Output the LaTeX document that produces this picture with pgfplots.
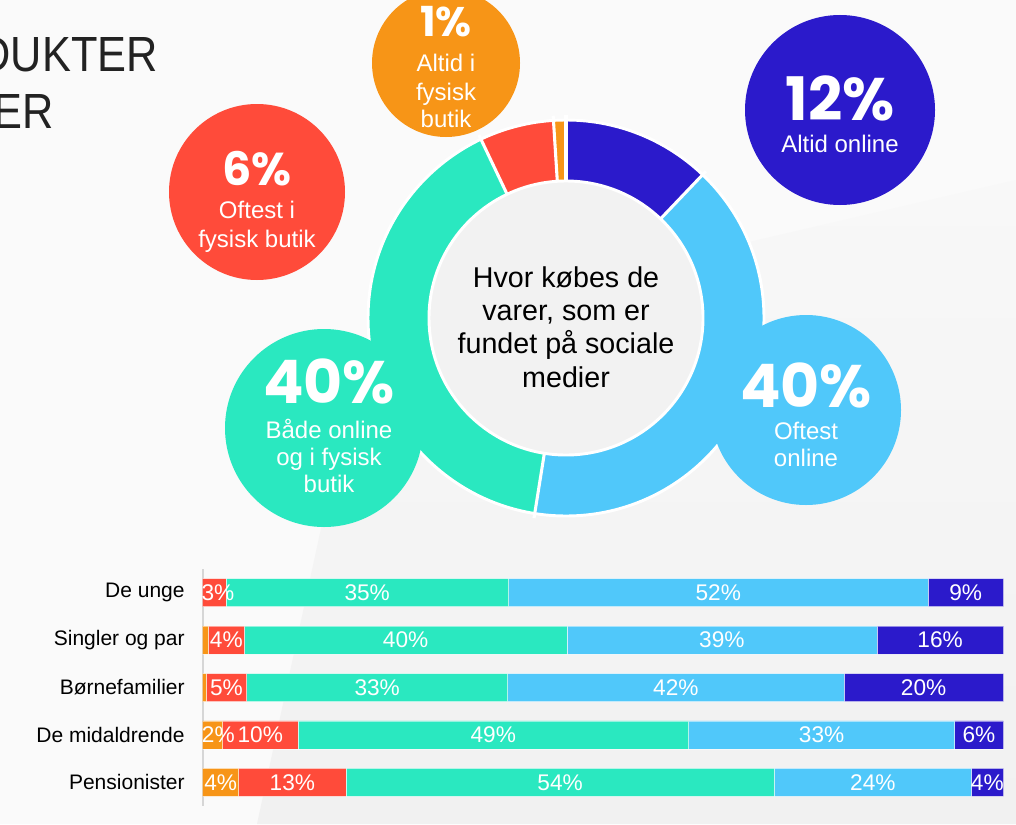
\documentclass[border=0pt]{standalone}
\usepackage{fontspec}
\setmainfont{Liberation Sans}
\newfontfamily\heavy{Poppins}
\usepackage{graphicx}
\usepackage{pgfplots}
\usepackage{pgfplotstable}
\pgfplotsset{compat=1.18}
\definecolor{cDark}{HTML}{2B1ACB}
\definecolor{cLight}{HTML}{50C8FA}
\definecolor{cTeal}{HTML}{2AE8C0}
\definecolor{cRed}{HTML}{FF4B3A}
\definecolor{cOrange}{HTML}{F79517}
\definecolor{bgA}{HTML}{F1F1F1}
\definecolor{bgB}{HTML}{FAFAFA}
\definecolor{bgC}{HTML}{F8F8F8}
\definecolor{cInner}{HTML}{F2F2F2}
\definecolor{cAxis}{HTML}{D6D6D6}
\definecolor{cTitle}{HTML}{222222}
\newcommand\fs[2]{\fontsize{#1}{#2}\selectfont}

% donut: share of purchases (per cent), total 99
% Altid online 12, Oftest online 40, Baade 40, Oftest fysisk 6, Altid fysisk 1
\def\degper{3.6363636}
\newcommand\seg[3]{% #1 cumulative start, #2 value, #3 colour
  \fill[#3] ({90-\degper*(#1)}:148.5pt)
    arc[start angle={90-\degper*(#1)}, end angle={90-\degper*((#1)+(#2))}, radius=148.5pt]
    -- ({90-\degper*((#1)+(#2))}:102.75pt)
    arc[start angle={90-\degper*((#1)+(#2))}, end angle={90-\degper*(#1)}, radius=102.75pt] -- cycle;
}
\newcommand\sep[1]{\draw[white, line width=2.3pt] ({90-\degper*(#1)}:100pt) -- ({90-\degper*(#1)}:152pt);}

\pgfplotstableread{
y orange red teal lblue dblue
0 0    2.9  35.3 52.4 9.4
1 0.7  4.5  40.3 38.7 15.8
2 0.45 5.05 32.6 42.0 19.9
3 2.5  9.4  48.8 33.2 6.1
4 4.5  13.4 53.5 24.6 4.0
}\bars

\pgfplotstableread{
x y lab
1.9 0 3
20.55 0 35
64.4 0 52
95.3 0 9
2.95 1 4
25.35 1 40
64.85 1 39
92.1 1 16
2.975 2 5
21.8 2 33
59.1 2 42
90.05 2 20
1.95 3 2
7.2 3 10
36.3 3 49
77.3 3 33
96.95 3 6
2.25 4 4
11.2 4 13
44.65 4 54
83.7 4 24
98 4 4
}\labs

\begin{document}
\begin{tikzpicture}
\useasboundingbox (0,0) rectangle (762pt,-618pt);
\clip (0,0) rectangle (762pt,-618pt);
\begin{scope}[x=0.75pt,y=-0.75pt]
  \fill[bgB] (0,0) rectangle (1016,824);
  \shade[top color=bgC, bottom color=bgA] (257,824) -- (320,533) -- (370,330) -- (1016,180) -- (1016,824) -- cycle;
  \node[anchor=base east, inner sep=0pt, text=cTitle, font=\fs{32.5}{36}] at (158,72) {\scalebox{1}[1.14]{DUKTER}};
  \node[anchor=base east, inner sep=0pt, text=cTitle, font=\fs{32.5}{36}] at (54,128) {\scalebox{1}[1.14]{ER}};
  \fill[cOrange] (446,63) circle[radius=74];
  \fill[cRed] (257,192) circle[radius=88];
  \fill[cDark] (840,110) circle[radius=95];
\end{scope}

\begin{scope}[shift={(424.5pt,-238.5pt)}]
  \seg{0}{12}{cDark}
  \seg{12}{40}{cLight}
  \seg{52}{40}{cTeal}
  \seg{92}{6}{cRed}
  \seg{98}{1}{cOrange}
  \sep{0}\sep{12}\sep{52}\sep{92}\sep{98}
  \draw[white, line width=2.2pt] (0,0) circle[radius=148.5pt];
  \filldraw[fill=cInner, draw=white, line width=2.2pt] (0,0) circle[radius=102.75pt];
\end{scope}

\begin{scope}[x=0.75pt,y=-0.75pt]
  \fill[cTeal] (324,428) circle[radius=99];
  \fill[cLight] (806,410) circle[radius=95];
  % centre text
  \begin{scope}[every node/.style={anchor=base, inner sep=0pt, text=black, font=\fs{21.5}{25}}]
    \node at (566,287) {Hvor købes de};
    \node at (566,320) {varer, som er};
    \node at (566,353) {fundet på sociale};
    \node at (566,387) {medier};
  \end{scope}
  \begin{scope}[every node/.style={anchor=base, inner sep=0pt, text=white, font=\fs{18}{20}}]
    \node[font=\heavy\bfseries\fs{31}{34}] at (446,37) {1\%};
    \node at (446,72) {Altid i};
    \node at (446,100) {fysisk};
    \node at (446,127) {butik};
    \node[font=\heavy\bfseries\fs{34.5}{38}] at (257,185) {6\%};
    \node at (257,218) {Oftest i};
    \node at (257,247) {fysisk butik};
    \node[font=\heavy\bfseries\fs{45}{50}] at (840,120) {12\%};
    \node at (840,152) {Altid online};
    \node[font=\heavy\bfseries\fs{45}{50}] at (329,403) {40\%};
    \node at (329,438) {Både online};
    \node at (329,465) {og i fysisk};
    \node at (329,492) {butik};
    \node[font=\heavy\bfseries\fs{45}{50}] at (806,407) {40\%};
    \node at (806,439) {Oftest};
    \node at (806,466) {online};
  \end{scope}
\end{scope}

\begin{axis}[at={(152pt,-426.75pt)}, anchor=north west, scale only axis,
  width=600.5pt, height=177.75pt,
  xbar stacked, bar width=21pt,
  xmin=0, xmax=100, ymin=-0.5, ymax=4.5, y dir=reverse,
  axis x line=none, axis y line=left,
  axis line style={-}, y axis line style={draw=cAxis, line width=1.5pt},
  xtick=\empty, ytick={0,1,2,3,4},
  yticklabels={De unge, Singler og par, Børnefamilier, De midaldrende, Pensionister},
  major tick length=0pt,
  yticklabel style={font=\fs{15.75}{18}, text=black, xshift=-10pt},
  every axis plot/.append style={draw=white, draw opacity=0.5, line width=0.5pt}]
  \addplot[fill=cOrange] table[x=orange, y=y]{\bars};
  \addplot[fill=cRed] table[x=red, y=y]{\bars};
  \addplot[fill=cTeal] table[x=teal, y=y]{\bars};
  \addplot[fill=cLight] table[x=lblue, y=y]{\bars};
  \addplot[fill=cDark] table[x=dblue, y=y]{\bars};
\end{axis}

\begin{axis}[at={(152pt,-426.75pt)}, anchor=north west, scale only axis,
  width=600.5pt, height=177.75pt,
  xmin=0, xmax=100, ymin=-0.5, ymax=4.5, y dir=reverse, hide axis, clip=false]
  \addplot[only marks, mark=*, mark size=0pt, mark options={draw=none, fill=none},
    point meta=explicit symbolic, nodes near coords={\pgfplotspointmeta\%},
    every node near coord/.append style={anchor=center, text=white, font=\fs{17}{19}, inner sep=0pt}]
    table[x=x, y=y, meta=lab]{\labs};
\end{axis}
\end{tikzpicture}
\end{document}
